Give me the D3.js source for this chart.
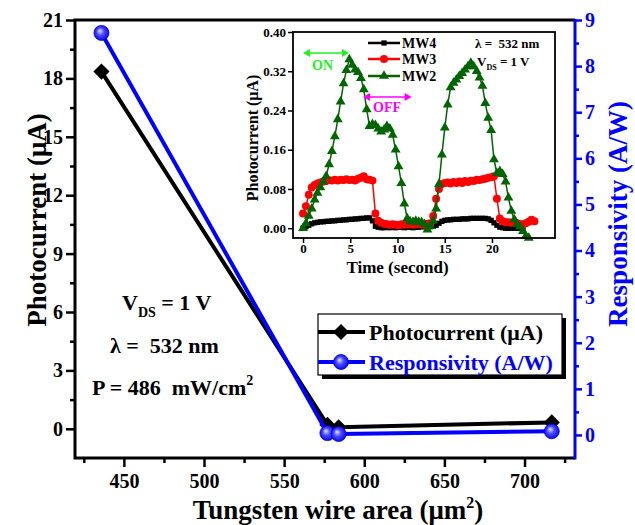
<!DOCTYPE html>
<html>
<head>
<meta charset="utf-8">
<script src="https://cdn.jsdelivr.net/npm/d3@7"></script>
<style>
body { margin: 0; background: #fff; }
text { font-family: "Liberation Serif", "Times New Roman", serif; font-weight: bold; white-space: pre; }
</style>
</head>
<body>
<svg id="chart" width="635" height="525"></svg>
<script>
// main chart data
const area = [436, 577, 584, 717];
const photocurrent = [18.35, 0.2, 0.08, 0.33];
const responsivity = [8.72, 0.04, 0.02, 0.08];

const xTicks = [450, 500, 550, 600, 650, 700];
const xMinor = [425, 475, 525, 575, 625, 675, 725];
const leftTicks = [0, 3, 6, 9, 12, 15, 18, 21];
const leftMinor = [1.5, 4.5, 7.5, 10.5, 13.5, 16.5, 19.5];
const rightTicks = [0, 1, 2, 3, 4, 5, 6, 7, 8, 9];
const rightMinor = [0.5, 1.5, 2.5, 3.5, 4.5, 5.5, 6.5, 7.5, 8.5];

// inset data (time in s, photocurrent in uA)
const times = [0,0.31,0.61,0.92,1.23,1.53,1.84,2.14,2.45,2.76,3.06,3.37,3.68,3.98,4.29,4.59,4.90,5.21,5.51,5.82,
  6.13,6.43,6.74,7.04,7.35,7.66,7.96,8.27,8.58,8.88,9.19,9.49,9.80,10.11,10.41,10.72,11.03,11.33,11.64,11.94,
  12.25,12.56,12.86,13.17,13.48,13.78,14.09,14.39,14.70,15.01,15.31,15.62,15.93,16.23,16.54,16.84,17.15,17.46,17.76,18.07,
  18.38,18.68,18.99,19.29,19.60,19.91,20.21,20.52,20.83,21.13,21.44,21.74,22.05,22.36,22.66,22.97,23.28,23.58,23.89,24.19,24.50];
const mw4 = [0.000,0.003,0.006,0.009,0.011,0.012,0.013,0.013,0.014,0.014,0.015,0.015,0.016,0.016,0.017,0.017,0.018,0.018,0.019,0.019,0.020,0.020,0.021,0.021,
  0.015,0.004,0.002,0.001,0.001,0.002,0.001,0.002,0.001,0.002,0.002,0.001,0.002,0.002,0.001,0.002,0.002,0.003,0.003,0.003,
  0.003,0.004,0.006,0.010,0.014,0.016,0.017,0.017,0.018,0.018,0.018,0.019,0.019,0.019,0.020,0.020,0.020,0.020,0.020,0.020,
  0.019,0.016,0.011,0.006,0.002,0.001,0.000,0.000,0.000,0.000,0.000,0.000,0.000];
const mw3 = [0.030,0.045,0.068,0.083,0.088,0.091,0.093,0.095,0.096,0.098,0.097,0.099,0.097,0.099,0.098,0.100,0.098,0.099,0.097,0.101,0.103,0.106,0.100,0.099,
  0.097,0.030,0.015,0.011,0.009,0.008,0.007,0.008,0.007,0.006,0.008,0.007,0.009,0.008,0.007,0.008,0.009,0.008,0.007,0.009,
  0.010,0.025,0.060,0.080,0.090,0.092,0.093,0.091,0.094,0.092,0.095,0.092,0.096,0.094,0.097,0.096,0.099,0.098,0.100,0.101,
  0.103,0.104,0.106,0.060,0.020,0.014,0.012,0.012,0.011,0.012,0.010,0.008,0.008,0.010,0.013,0.017,0.014];
const mw2 = [0.000,0.010,0.025,0.040,0.058,0.072,0.083,0.095,0.106,0.130,0.157,0.187,0.222,0.258,0.295,0.322,0.344,0.333,0.323,0.318,
  0.306,0.283,0.242,0.208,0.212,0.210,0.203,0.197,0.201,0.208,0.203,0.190,0.160,0.126,0.092,0.050,0.020,0.014,0.013,0.015,
  0.013,0.012,0.008,-0.003,0.004,0.015,0.040,0.090,0.150,0.205,0.252,0.287,0.296,0.303,0.310,0.316,0.323,0.330,0.337,0.330,
  0.320,0.307,0.290,0.255,0.225,0.200,0.140,0.112,0.116,0.110,0.095,0.062,0.035,0.018,0.008,0.003,-0.006,-0.016,-0.020];
const insetYTicks = [0, 0.08, 0.16, 0.24, 0.32, 0.40];
const insetXTicks = [0, 5, 10, 15, 20];

const svg = d3.select("#chart");
const plot = {left: 75, right: 575, top: 20, bottom: 458};
const blue = "#0000ff";

const defs = svg.append("defs");
const grad = defs.append("radialGradient").attr("id", "ball")
    .attr("cx", "50%").attr("cy", "50%").attr("r", "55%").attr("fx", "38%").attr("fy", "35%");
grad.append("stop").attr("offset", "0%").attr("stop-color", "#e8e8ff");
grad.append("stop").attr("offset", "45%").attr("stop-color", "#4a4aff");
grad.append("stop").attr("offset", "100%").attr("stop-color", "#0000ee");

const x = d3.scaleLinear().domain([419.5, 731.5]).range([plot.left, plot.right]);
const yL = d3.scaleLinear().domain([-1.5, 21]).range([plot.bottom, plot.top]);
const yR = d3.scaleLinear().domain([-0.5, 9]).range([plot.bottom, plot.top]);

function styleAxis(g, color, fs, sw) {
    g.select(".domain").remove();
    g.selectAll("line").attr("stroke", color).attr("stroke-width", sw);
    g.selectAll("text").attr("fill", color).attr("font-size", fs)
        .attr("font-family", "Liberation Serif, Times New Roman, serif").attr("font-weight", "bold");
}

// main axes
svg.append("g").attr("transform", "translate(" + plot.left + ",0)")
    .call(d3.axisLeft(yL).tickValues(leftTicks).tickSize(9).tickPadding(3).tickFormat(d3.format("d")))
    .call(g => styleAxis(g, "#000", 20, 2.5));
svg.append("g").attr("transform", "translate(" + plot.left + ",0)")
    .call(d3.axisLeft(yL).tickValues(leftMinor).tickSize(5).tickFormat(""))
    .call(g => styleAxis(g, "#000", 20, 2.5));
svg.append("g").attr("transform", "translate(0," + plot.bottom + ")")
    .call(d3.axisBottom(x).tickValues(xTicks).tickSize(9).tickPadding(7))
    .call(g => styleAxis(g, "#000", 20, 2.5));
svg.append("g").attr("transform", "translate(0," + plot.bottom + ")")
    .call(d3.axisBottom(x).tickValues(xMinor).tickSize(5).tickFormat(""))
    .call(g => styleAxis(g, "#000", 20, 2.5));
svg.append("g").attr("transform", "translate(" + plot.right + ",0)")
    .call(d3.axisRight(yR).tickValues(rightTicks).tickSize(7).tickPadding(3).tickFormat(d3.format("d")))
    .call(g => styleAxis(g, blue, 20, 2.5));
svg.append("g").attr("transform", "translate(" + plot.right + ",0)")
    .call(d3.axisRight(yR).tickValues(rightMinor).tickSize(4).tickFormat(""))
    .call(g => styleAxis(g, blue, 20, 2.5));

// frame
svg.append("path")
    .attr("d", "M" + plot.right + "," + plot.top + "H" + plot.left + "V" + plot.bottom + "H" + plot.right)
    .attr("fill", "none").attr("stroke", "#000").attr("stroke-width", 3);
svg.append("line").attr("x1", plot.right).attr("x2", plot.right)
    .attr("y1", plot.top - 1).attr("y2", plot.bottom + 1.5)
    .attr("stroke", blue).attr("stroke-width", 3);

// main series
const idx = d3.range(area.length);
svg.append("path").datum(idx)
    .attr("d", d3.line().x(i => x(area[i])).y(i => yL(photocurrent[i])))
    .attr("fill", "none").attr("stroke", "#000").attr("stroke-width", 4);
svg.selectAll(".dia").data(idx).enter().append("path")
    .attr("d", d3.symbol(d3.symbolSquare, 130)())
    .attr("transform", i => "translate(" + x(area[i]) + "," + yL(photocurrent[i]) + ") rotate(45)")
    .attr("fill", "#000");
svg.append("path").datum(idx)
    .attr("d", d3.line().x(i => x(area[i])).y(i => yR(responsivity[i])))
    .attr("fill", "none").attr("stroke", blue).attr("stroke-width", 4);
svg.selectAll(".ball").data(idx).enter().append("circle")
    .attr("cx", i => x(area[i])).attr("cy", i => yR(responsivity[i])).attr("r", 7.5)
    .attr("fill", "url(#ball)").attr("stroke", "#0000dd").attr("stroke-width", 0.8);

// axis titles
svg.append("text").attr("transform", "translate(37,220) rotate(-90)")
    .attr("text-anchor", "middle").attr("dominant-baseline", "central")
    .attr("font-size", 27).text("Photocurrent (\u03bcA)");
svg.append("text").attr("transform", "translate(618,214) rotate(-90)")
    .attr("text-anchor", "middle").attr("dominant-baseline", "central")
    .attr("font-size", 27).attr("fill", blue).text("Responsivity (A/W)");
const xt = svg.append("text").attr("x", 338).attr("y", 519).attr("text-anchor", "middle").attr("font-size", 27);
xt.append("tspan").text("Tungsten wire area (\u03bcm");
xt.append("tspan").attr("font-size", 16).attr("dy", -11).text("2");
xt.append("tspan").attr("dy", 11).text(")");

// annotations
const vds = svg.append("text").attr("x", 122).attr("y", 310).attr("font-size", 22);
vds.append("tspan").text("V");
vds.append("tspan").attr("font-size", 14).attr("dy", 7).text("DS");
vds.append("tspan").attr("dy", -7).text(" = 1 V");
svg.append("text").attr("x", 110).attr("y", 353).attr("font-size", 22).text("\u03bb =  532 nm");
const pw = svg.append("text").attr("x", 92).attr("y", 395).attr("font-size", 22);
pw.append("tspan").text("P = 486  mW/cm");
pw.append("tspan").attr("font-size", 14).attr("dy", -10).text("2");

// legend
const leg = svg.append("g");
leg.append("rect").attr("x", 322).attr("y", 318).attr("width", 244).attr("height", 61).attr("fill", "#000");
leg.append("rect").attr("x", 318).attr("y", 314).attr("width", 244).attr("height", 61)
    .attr("fill", "#fff").attr("stroke", "#000").attr("stroke-width", 1.2);
leg.append("line").attr("x1", 318).attr("x2", 365).attr("y1", 332).attr("y2", 332).attr("stroke", "#000").attr("stroke-width", 4);
leg.append("path").attr("d", d3.symbol(d3.symbolSquare, 130)()).attr("transform", "translate(341,332) rotate(45)").attr("fill", "#000");
leg.append("text").attr("x", 369).attr("y", 340).attr("font-size", 22).text("Photocurrent (\u03bcA)");
leg.append("line").attr("x1", 318).attr("x2", 365).attr("y1", 362).attr("y2", 362).attr("stroke", blue).attr("stroke-width", 4);
leg.append("circle").attr("cx", 341).attr("cy", 362).attr("r", 7.5).attr("fill", "url(#ball)").attr("stroke", "#0000dd").attr("stroke-width", 0.8);
leg.append("text").attr("x", 369).attr("y", 370).attr("font-size", 22).attr("fill", blue).text("Responsivity (A/W)");

// ---- inset ----
const inset = {left: 293, right: 555, top: 32, bottom: 238};
const ix = d3.scaleLinear().domain([-1.06, 26.67]).range([inset.left, inset.right]);
const iy = d3.scaleLinear().domain([-0.02, 0.40]).range([inset.bottom, inset.top]);

svg.append("rect").attr("x", inset.left).attr("y", inset.top)
    .attr("width", inset.right - inset.left).attr("height", inset.bottom - inset.top)
    .attr("fill", "#fff");

svg.append("g").attr("transform", "translate(" + inset.left + ",0)")
    .call(d3.axisLeft(iy).tickValues(insetYTicks).tickSize(5).tickPadding(2).tickFormat(d3.format(".2f")))
    .call(g => styleAxis(g, "#000", 13, 1.5));
svg.append("g").attr("transform", "translate(0," + inset.bottom + ")")
    .call(d3.axisBottom(ix).tickValues(insetXTicks).tickSize(5).tickPadding(1).tickFormat(d3.format("d")))
    .call(g => styleAxis(g, "#000", 13, 1.5));

svg.append("text").attr("transform", "translate(252," + ((inset.top + inset.bottom) / 2 + 3) + ") rotate(-90)")
    .attr("text-anchor", "middle").attr("dominant-baseline", "central")
    .attr("font-size", 16).text("Photocurrent (\u03bcA)");
svg.append("text").attr("x", (ix(0) + ix(20)) / 2).attr("y", 273).attr("text-anchor", "middle")
    .attr("font-size", 17).text("Time (second)");

const series = [
    {vals: mw4, color: "#000", sym: d3.symbolSquare, size: 28, name: "MW4"},
    {vals: mw3, color: "#ff0000", sym: d3.symbolCircle, size: 50, name: "MW3"},
    {vals: mw2, color: "#006400", sym: d3.symbolTriangle, size: 42, name: "MW2"}
];
const ig = svg.append("g");
series.forEach(s => {
    const pts = s.vals.map((v, i) => [times[i], v]);
    ig.append("path").datum(pts)
        .attr("d", d3.line().x(d => ix(d[0])).y(d => iy(d[1])))
        .attr("fill", "none").attr("stroke", s.color).attr("stroke-width", 1.5);
    ig.selectAll(null).data(pts).enter().append("path")
        .attr("d", d3.symbol(s.sym, s.size)())
        .attr("transform", d => "translate(" + ix(d[0]) + "," + iy(d[1]) + ")")
        .attr("fill", s.color);
});

svg.append("rect").attr("x", inset.left).attr("y", inset.top)
    .attr("width", inset.right - inset.left).attr("height", inset.bottom - inset.top)
    .attr("fill", "none").attr("stroke", "#000").attr("stroke-width", 1.8);

// inset legend
series.forEach((s, k) => {
    const ly = [43, 59, 76][k];
    svg.append("line").attr("x1", 368).attr("x2", 400).attr("y1", ly).attr("y2", ly)
        .attr("stroke", s.color).attr("stroke-width", 2.5);
    svg.append("path").attr("d", d3.symbol(s.sym, s.size)())
        .attr("transform", "translate(384," + ly + ")").attr("fill", s.color);
    svg.append("text").attr("x", 402).attr("y", ly + 5).attr("font-size", 14).text(s.name);
});
svg.append("text").attr("x", 475).attr("y", 48).attr("font-size", 13).text("\u03bb =  532 nm");
const ivds = svg.append("text").attr("x", 477).attr("y", 66).attr("font-size", 13);
ivds.append("tspan").text("V");
ivds.append("tspan").attr("font-size", 8).attr("dy", 4).text("DS");
ivds.append("tspan").attr("dy", -4).text(" = 1 V");

// ON / OFF arrows
function dArrow(x1, x2, y, color) {
    svg.append("line").attr("x1", x1 + 4).attr("x2", x2 - 4).attr("y1", y).attr("y2", y)
        .attr("stroke", color).attr("stroke-width", 1.5);
    svg.append("path").attr("d", "M" + x1 + "," + y + "l7,-4v8z").attr("fill", color);
    svg.append("path").attr("d", "M" + x2 + "," + y + "l-7,-4v8z").attr("fill", color);
}
dArrow(ix(0), ix(4.87), 53, "#22ee22");
svg.append("text").attr("x", 312).attr("y", 70).attr("font-size", 14).attr("fill", "#22ee22").text("ON");
dArrow(ix(6.35), ix(11.5), 97, "#ff00ff");
svg.append("text").attr("x", 373).attr("y", 112).attr("font-size", 14).attr("fill", "#ff00ff").text("OFF");
</script>
</body>
</html>
